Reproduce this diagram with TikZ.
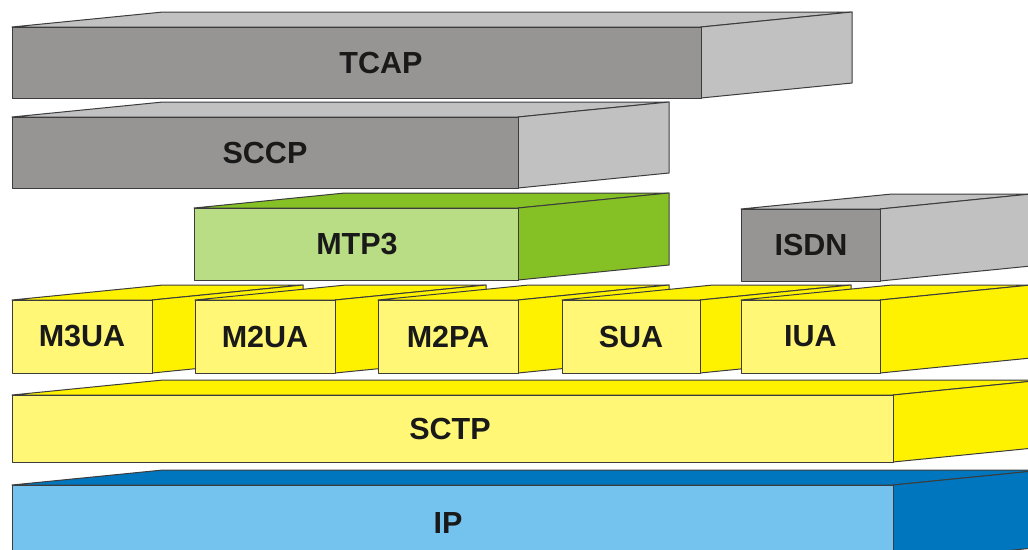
\documentclass[tikz,border=0pt]{standalone}
\usepackage{fontspec}
\setmainfont{Liberation Sans}
\usepackage{tikz}

\definecolor{greyfront}{RGB}{150,149,147}
\definecolor{greyside}{RGB}{193,193,193}
\definecolor{greenfront}{RGB}{185,221,133}
\definecolor{greenside}{RGB}{133,193,37}
\definecolor{yelfront}{RGB}{255,247,117}
\definecolor{yelside}{RGB}{255,242,0}
\definecolor{bluefront}{RGB}{115,195,238}
\definecolor{blueside}{RGB}{0,118,190}
\definecolor{edge}{RGB}{60,60,60}

% box: name, x0, y0, x1, y1, colour scheme, text, text x
\newcommand{\layerbox}[8]{%
  \filldraw[face,fill=#6side] (#2,#3) -- ++(151,-15) -- ({#4+151},{#3-15}) -- (#4,#3) -- cycle;
  \filldraw[face,fill=#6side] (#4,#3) -- ++(151,-15) -- ({#4+151},{#5-15}) -- (#4,#5) -- cycle;
  \filldraw[face,fill=#6front] (#2,#3) rectangle (#4,#5);
  \node[layer] (#1) at ({#8},{(#3+#5)/2}) {#7};
}

\begin{document}
\begin{tikzpicture}[x=1pt,y=-1pt,
  face/.style={draw=edge,line width=1pt,line join=round},
  layer/.style={inner sep=0pt,text=black!90,font=\fontsize{30.5}{36}\selectfont\bfseries}]
  \useasboundingbox (0,0) rectangle (1028,549);
  \clip (0,0) rectangle (1028,549);

  \layerbox{tcap}{12}{27}{701}{98}{grey}{TCAP}{381}
  \layerbox{sccp}{12}{117}{518}{188}{grey}{SCCP}{265}
  \layerbox{mtp3}{194}{208}{518}{280}{green}{MTP3}{357}
  \layerbox{isdn}{741}{209}{880}{281}{grey}{ISDN}{811}

  \foreach \nm/\xa/\xb/\txt in {m3ua/12/152/M3UA, m2ua/195/335/M2UA, m2pa/378/518/M2PA,
                                sua/562/700/SUA, iua/741/880/IUA}
    {\layerbox{\nm}{\xa}{300}{\xb}{373}{yel}{\txt}{(\xa+\xb)/2}}

  \layerbox{sctp}{12}{395}{893}{462}{yel}{SCTP}{450}
  \layerbox{ip}{12}{485}{893}{562}{blue}{IP}{448}
\end{tikzpicture}
\end{document}
